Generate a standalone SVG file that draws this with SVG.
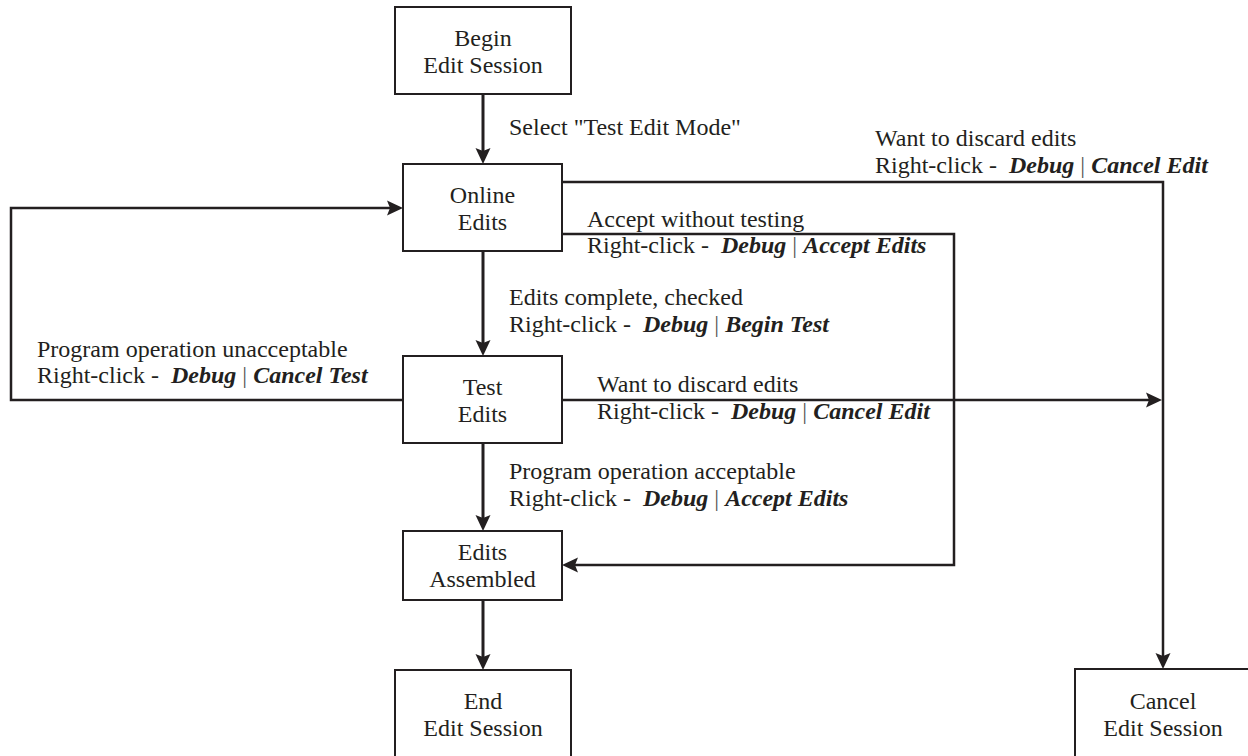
<svg xmlns="http://www.w3.org/2000/svg" width="1248" height="756" viewBox="0 0 1248 756">
<style>
  .box { fill: #ffffff; stroke: #231f20; stroke-width: 2; }
  .nt { font-family: "Liberation Serif", "Times New Roman", serif; font-size: 24px; fill: #231f20; text-anchor: middle; }
  .lb { font-family: "Liberation Serif", "Times New Roman", serif; font-size: 24px; fill: #231f20; }
  .bi { font-weight: bold; font-style: italic; }
  .bar { fill: #555555; }
  .cn { fill: none; stroke: #231f20; stroke-width: 2.5; }
  .ca { fill: none; stroke: #231f20; stroke-width: 3; marker-end: url(#arr); }
  .cl { fill: none; stroke: #231f20; stroke-width: 2.5; marker-end: url(#arr); }
</style>
<defs>
  <marker id="arr" viewBox="-6 -8 16 16" refX="0" refY="0" markerWidth="16" markerHeight="16" orient="auto" markerUnits="userSpaceOnUse">
    <path d="M10,0 L-6,-7.5 L-3,0 L-6,7.5 Z" fill="#231f20"/>
  </marker>
</defs>
<rect width="1248" height="756" fill="#ffffff"/>

<g id="connectors">
  <path class="ca" d="M483,94 V154"/>
  <path class="ca" d="M483,251 V346"/>
  <path class="ca" d="M483,443 V521"/>
  <path class="ca" d="M483,600 V660"/>
  <path class="cl" d="M562,182 H1163 V659"/>
  <path class="cl" d="M562,234 H954 V565 H572"/>
  <path class="cl" d="M562,400 H1152"/>
  <path class="cl" d="M403,400 H11 V208 H393"/>
</g>

<g id="labels">
  <text class="lb" x="509" y="135">Select "Test Edit Mode"</text>
  <text class="lb" x="875" y="146">Want to discard edits</text>
  <text class="lb" x="875" y="173">Right-click -&#160; <tspan class="bi">Debug</tspan> <tspan class="bar">|</tspan> <tspan class="bi">Cancel Edit</tspan></text>
  <text class="lb" x="587" y="227">Accept without testing</text>
  <text class="lb" x="587" y="253">Right-click -&#160; <tspan class="bi">Debug</tspan> <tspan class="bar">|</tspan> <tspan class="bi">Accept Edits</tspan></text>
  <text class="lb" x="509" y="305">Edits complete, checked</text>
  <text class="lb" x="509" y="332">Right-click -&#160; <tspan class="bi">Debug</tspan> <tspan class="bar">|</tspan> <tspan class="bi">Begin Test</tspan></text>
  <text class="lb" x="37" y="357">Program operation unacceptable</text>
  <text class="lb" x="37" y="383">Right-click -&#160; <tspan class="bi">Debug</tspan> <tspan class="bar">|</tspan> <tspan class="bi">Cancel Test</tspan></text>
  <text class="lb" x="597" y="392">Want to discard edits</text>
  <text class="lb" x="597" y="419">Right-click -&#160; <tspan class="bi">Debug</tspan> <tspan class="bar">|</tspan> <tspan class="bi">Cancel Edit</tspan></text>
  <text class="lb" x="509" y="479">Program operation acceptable</text>
  <text class="lb" x="509" y="506">Right-click -&#160; <tspan class="bi">Debug</tspan> <tspan class="bar">|</tspan> <tspan class="bi">Accept Edits</tspan></text>
</g>

<g id="begin">
  <rect class="box" x="395" y="7" width="176" height="87"/>
  <text class="nt" x="483" y="46">Begin</text>
  <text class="nt" x="483" y="73">Edit Session</text>
</g>
<g id="online">
  <rect class="box" x="403" y="164" width="159" height="87"/>
  <text class="nt" x="482.5" y="203">Online</text>
  <text class="nt" x="482.5" y="230">Edits</text>
</g>
<g id="test">
  <rect class="box" x="403" y="356" width="159" height="87"/>
  <text class="nt" x="482.5" y="395">Test</text>
  <text class="nt" x="482.5" y="422">Edits</text>
</g>
<g id="assembled">
  <rect class="box" x="403" y="531" width="159" height="69"/>
  <text class="nt" x="482.5" y="560">Edits</text>
  <text class="nt" x="482.5" y="587">Assembled</text>
</g>
<g id="end">
  <rect class="box" x="395" y="670" width="176" height="92"/>
  <text class="nt" x="483" y="709">End</text>
  <text class="nt" x="483" y="736">Edit Session</text>
</g>
<g id="cancel">
  <rect class="box" x="1075" y="669" width="180" height="92"/>
  <text class="nt" x="1163" y="709">Cancel</text>
  <text class="nt" x="1163" y="736">Edit Session</text>
</g>
</svg>
